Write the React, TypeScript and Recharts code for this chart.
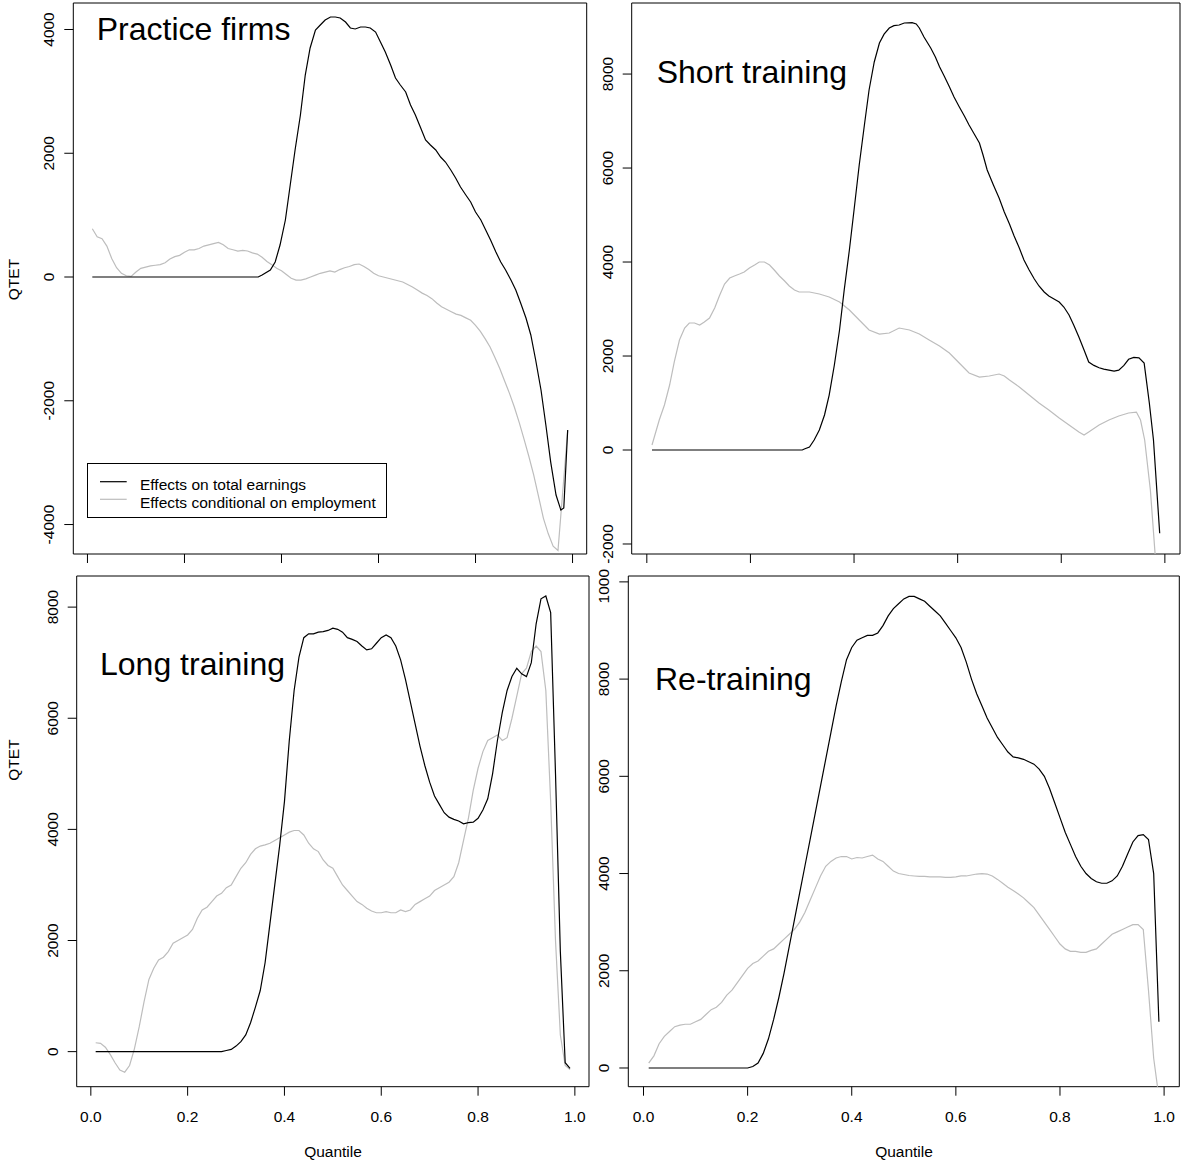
import React from 'react';
import { LineChart, Line, XAxis, YAxis, ReferenceArea } from 'recharts';

const FONT = '"Liberation Sans", Arial, Helvetica, sans-serif';
const FS = 15.5;
const TITLE_FS = 32;

// Quantile axis
const X_DOMAIN: [number, number] = [-0.0292, 1.0292];
const X_TICKS = [0, 0.2, 0.4, 0.6, 0.8, 1.0];

// Tick labels of the QTET axes
const p1YTicks = [-4000, -2000, 0, 2000, 4000];
const p2YTicks = [-2000, 0, 2000, 4000, 6000, 8000];
const p3YTicks = [0, 2000, 4000, 6000, 8000];
const p4YTicks = [0, 2000, 4000, 6000, 8000, 10000];

const titles = ['Practice firms', 'Short training', 'Long training', 'Re-training'];
const legendLabels = ['Effects on total earnings', 'Effects conditional on employment'];

// ---- Panel 1: Practice firms ----  [quantile, QTET]
const p1Total: [number, number][] = [
  [0.01, 0], [0.352, 0], [0.36, 32], [0.377, 113], [0.387, 242], [0.397, 517], [0.408, 921], [0.418, 1487],
  [0.428, 2053], [0.439, 2618], [0.449, 3264], [0.459, 3701], [0.47, 3992], [0.48, 4072], [0.49, 4153],
  [0.501, 4202], [0.511, 4202], [0.521, 4185], [0.532, 4121], [0.542, 4024], [0.552, 4008], [0.563, 4040],
  [0.573, 4040], [0.583, 4024], [0.594, 3959], [0.604, 3798], [0.614, 3636], [0.625, 3426], [0.635, 3216],
  [0.645, 3103], [0.656, 2990], [0.666, 2780], [0.676, 2618], [0.687, 2408], [0.697, 2214], [0.707, 2133],
  [0.718, 2053], [0.728, 1939], [0.738, 1858], [0.749, 1729], [0.759, 1600], [0.769, 1454], [0.78, 1325],
  [0.79, 1212], [0.8, 1050], [0.811, 921], [0.821, 760], [0.831, 598], [0.842, 404], [0.852, 242],
  [0.862, 113], [0.873, -48], [0.883, -210], [0.893, -420], [0.904, -663], [0.914, -937], [0.924, -1341],
  [0.935, -1826], [0.945, -2392], [0.955, -2990], [0.966, -3523], [0.976, -3766], [0.982, -3733], [0.99, -2472],
];
const p1Cond: [number, number][] = [
  [0.01, 780], [0.02, 650], [0.03, 620], [0.04, 500], [0.05, 300], [0.06, 150], [0.07, 60], [0.08, 20],
  [0.09, 10], [0.1, 80], [0.11, 140], [0.12, 160], [0.13, 180], [0.14, 190], [0.15, 200], [0.16, 230],
  [0.17, 290], [0.18, 330], [0.19, 350], [0.2, 400], [0.21, 440], [0.22, 440], [0.23, 460], [0.24, 500],
  [0.25, 520], [0.26, 540], [0.27, 560], [0.28, 520], [0.29, 460], [0.3, 440], [0.31, 420], [0.32, 430],
  [0.33, 420], [0.34, 390], [0.35, 370], [0.36, 320], [0.37, 250], [0.38, 200], [0.39, 140], [0.4, 100],
  [0.41, 40], [0.42, -20], [0.43, -50], [0.44, -50], [0.45, -30], [0.46, 0], [0.47, 30], [0.48, 60],
  [0.49, 80], [0.5, 100], [0.51, 80], [0.52, 120], [0.53, 150], [0.54, 170], [0.55, 200], [0.56, 210],
  [0.57, 170], [0.58, 120], [0.59, 60], [0.6, 20], [0.61, 0], [0.62, -20], [0.63, -40], [0.64, -60],
  [0.65, -80], [0.66, -120], [0.67, -160], [0.68, -210], [0.69, -260], [0.7, -300], [0.71, -350],
  [0.72, -420], [0.73, -480], [0.74, -520], [0.75, -560], [0.76, -600], [0.77, -620], [0.78, -660],
  [0.79, -700], [0.8, -780], [0.81, -880], [0.82, -1000], [0.83, -1130], [0.84, -1300], [0.85, -1480],
  [0.86, -1680], [0.87, -1880], [0.88, -2100], [0.89, -2350], [0.9, -2620], [0.91, -2900], [0.92, -3200],
  [0.93, -3550], [0.94, -3900], [0.95, -4150], [0.96, -4350], [0.97, -4420], [0.98, -3450], [0.99, -2480],
];

// ---- Panel 2: Short training ----
const p2Total: [number, number][] = [
  [0.01, 0], [0.3, 0], [0.304, 21], [0.314, 64], [0.323, 213], [0.333, 426], [0.343, 745], [0.352, 1170],
  [0.362, 1809], [0.372, 2554], [0.381, 3405], [0.391, 4256], [0.4, 5107], [0.41, 6065], [0.42, 6916],
  [0.429, 7661], [0.439, 8257], [0.449, 8661], [0.458, 8850], [0.468, 8980], [0.477, 9030], [0.487, 9044],
  [0.497, 9086], [0.512, 9093], [0.52, 9065], [0.526, 8980], [0.535, 8789], [0.548, 8555], [0.557, 8363],
  [0.565, 8157], [0.574, 7959], [0.584, 7731], [0.593, 7512], [0.603, 7305], [0.613, 7108], [0.622, 6916],
  [0.632, 6725], [0.642, 6533], [0.649, 6278], [0.657, 5958], [0.669, 5639], [0.68, 5363], [0.69, 5065],
  [0.7, 4809], [0.709, 4554], [0.719, 4299], [0.728, 4043], [0.738, 3830], [0.748, 3639], [0.757, 3490],
  [0.767, 3362], [0.776, 3277], [0.786, 3213], [0.796, 3149], [0.805, 3043], [0.815, 2873], [0.824, 2660],
  [0.834, 2405], [0.844, 2128], [0.853, 1873], [0.863, 1800], [0.873, 1750], [0.882, 1720], [0.892, 1700],
  [0.902, 1680], [0.911, 1700], [0.921, 1800], [0.93, 1930], [0.94, 1970], [0.95, 1960], [0.96, 1850],
  [0.97, 1000], [0.978, 213], [0.99, -1770],
];
const p2Cond: [number, number][] = [
  [0.01, 106], [0.024, 638], [0.034, 958], [0.044, 1383], [0.053, 1873], [0.063, 2341], [0.073, 2596],
  [0.082, 2703], [0.092, 2703], [0.102, 2660], [0.111, 2724], [0.121, 2809], [0.131, 3022], [0.14, 3277],
  [0.15, 3532], [0.16, 3660], [0.169, 3703], [0.179, 3745], [0.188, 3788], [0.198, 3873], [0.208, 3937],
  [0.217, 4001], [0.227, 4001], [0.237, 3937], [0.246, 3830], [0.256, 3703], [0.266, 3596], [0.275, 3490],
  [0.285, 3405], [0.294, 3362], [0.314, 3362], [0.333, 3320], [0.352, 3256], [0.372, 3149], [0.391, 2979],
  [0.41, 2766], [0.429, 2554], [0.449, 2468], [0.468, 2490], [0.487, 2596], [0.507, 2554], [0.526, 2468],
  [0.545, 2341], [0.565, 2213], [0.584, 2064], [0.603, 1851], [0.622, 1639], [0.642, 1553], [0.661, 1575],
  [0.68, 1617], [0.69, 1575], [0.7, 1490], [0.719, 1341], [0.738, 1170], [0.757, 1000], [0.776, 851],
  [0.796, 681], [0.815, 532], [0.834, 383], [0.844, 319], [0.853, 383], [0.873, 532], [0.892, 638],
  [0.911, 723], [0.93, 787], [0.945, 808], [0.953, 638], [0.961, 213], [0.972, -850], [0.982, -2340], [0.99, -3000],
];

// ---- Panel 3: Long training ----
const p3Total: [number, number][] = [
  [0.01, 0], [0.27, 0], [0.28, 20], [0.29, 40], [0.3, 100], [0.31, 180], [0.32, 300], [0.33, 520],
  [0.34, 800], [0.35, 1100], [0.36, 1600], [0.37, 2300], [0.38, 3000], [0.39, 3700], [0.4, 4500],
  [0.41, 5600], [0.42, 6500], [0.43, 7100], [0.44, 7450], [0.45, 7520], [0.46, 7520], [0.47, 7550],
  [0.48, 7560], [0.49, 7580], [0.5, 7620], [0.51, 7600], [0.52, 7550], [0.53, 7450], [0.54, 7420],
  [0.55, 7380], [0.56, 7300], [0.57, 7230], [0.58, 7250], [0.59, 7350], [0.6, 7450], [0.61, 7500],
  [0.62, 7450], [0.63, 7300], [0.64, 7050], [0.65, 6700], [0.66, 6300], [0.67, 5900], [0.68, 5500],
  [0.69, 5150], [0.7, 4850], [0.71, 4600], [0.72, 4450], [0.73, 4300], [0.74, 4220], [0.75, 4180],
  [0.76, 4150], [0.77, 4100], [0.78, 4120], [0.79, 4130], [0.8, 4200], [0.81, 4350], [0.82, 4550],
  [0.83, 5000], [0.84, 5600], [0.85, 6100], [0.86, 6500], [0.87, 6750], [0.88, 6900], [0.89, 6800],
  [0.9, 6750], [0.91, 7000], [0.92, 7700], [0.93, 8150], [0.94, 8200], [0.95, 7900], [0.96, 5000],
  [0.97, 1800], [0.98, -200], [0.99, -300],
];
const p3Cond: [number, number][] = [
  [0.01, 160], [0.02, 150], [0.03, 80], [0.04, -50], [0.05, -200], [0.06, -330], [0.07, -370], [0.08, -250],
  [0.09, 50], [0.1, 450], [0.11, 900], [0.12, 1300], [0.13, 1500], [0.14, 1650], [0.15, 1700], [0.16, 1800],
  [0.17, 1950], [0.18, 2000], [0.19, 2050], [0.2, 2100], [0.21, 2200], [0.22, 2400], [0.23, 2550],
  [0.24, 2600], [0.25, 2700], [0.26, 2800], [0.27, 2850], [0.28, 2950], [0.29, 3000], [0.3, 3150],
  [0.31, 3300], [0.32, 3400], [0.33, 3550], [0.34, 3650], [0.35, 3700], [0.36, 3720], [0.37, 3750],
  [0.38, 3800], [0.39, 3850], [0.4, 3900], [0.41, 3950], [0.42, 3980], [0.43, 3980], [0.44, 3900],
  [0.45, 3750], [0.46, 3650], [0.47, 3600], [0.48, 3450], [0.49, 3350], [0.5, 3300], [0.51, 3150],
  [0.52, 3000], [0.53, 2900], [0.54, 2800], [0.55, 2700], [0.56, 2650], [0.57, 2580], [0.58, 2530],
  [0.59, 2500], [0.6, 2500], [0.61, 2520], [0.62, 2500], [0.63, 2500], [0.64, 2550], [0.65, 2520],
  [0.66, 2550], [0.67, 2650], [0.68, 2700], [0.69, 2750], [0.7, 2800], [0.71, 2900], [0.72, 2950],
  [0.73, 3000], [0.74, 3050], [0.75, 3150], [0.76, 3400], [0.77, 3800], [0.78, 4200], [0.79, 4700],
  [0.8, 5100], [0.81, 5400], [0.82, 5600], [0.83, 5650], [0.84, 5700], [0.85, 5600], [0.86, 5650],
  [0.87, 6000], [0.88, 6400], [0.89, 6800], [0.9, 6900], [0.91, 7200], [0.92, 7300], [0.93, 7200],
  [0.94, 6500], [0.95, 4500], [0.96, 2000], [0.97, 300], [0.98, -250], [0.99, -320],
];

// ---- Panel 4: Re-training ----
const p4Total: [number, number][] = [
  [0.01, 0], [0.2, 0], [0.21, 30], [0.22, 100], [0.23, 300], [0.24, 600], [0.25, 1000], [0.26, 1450],
  [0.27, 1950], [0.28, 2500], [0.29, 3050], [0.3, 3600], [0.31, 4150], [0.32, 4700], [0.33, 5250],
  [0.34, 5800], [0.35, 6350], [0.36, 6900], [0.37, 7450], [0.38, 7950], [0.39, 8400], [0.4, 8650],
  [0.41, 8800], [0.42, 8850], [0.43, 8900], [0.44, 8900], [0.45, 8950], [0.46, 9100], [0.47, 9300],
  [0.48, 9450], [0.49, 9550], [0.5, 9650], [0.51, 9700], [0.52, 9700], [0.53, 9650], [0.54, 9600],
  [0.55, 9500], [0.56, 9400], [0.57, 9300], [0.58, 9150], [0.59, 9000], [0.6, 8850], [0.61, 8650],
  [0.62, 8350], [0.63, 8000], [0.64, 7700], [0.65, 7450], [0.66, 7200], [0.67, 7000], [0.68, 6800],
  [0.69, 6650], [0.7, 6500], [0.71, 6400], [0.72, 6380], [0.73, 6350], [0.74, 6300], [0.75, 6250],
  [0.76, 6150], [0.77, 6000], [0.78, 5750], [0.79, 5450], [0.8, 5150], [0.81, 4850], [0.82, 4600],
  [0.83, 4350], [0.84, 4150], [0.85, 4000], [0.86, 3900], [0.87, 3830], [0.88, 3800], [0.89, 3800],
  [0.9, 3850], [0.91, 3950], [0.92, 4150], [0.93, 4400], [0.94, 4650], [0.95, 4780], [0.96, 4800],
  [0.97, 4700], [0.98, 4000], [0.99, 950],
];
const p4Cond: [number, number][] = [
  [0.01, 100], [0.02, 250], [0.03, 500], [0.04, 650], [0.05, 750], [0.06, 850], [0.07, 880], [0.08, 900],
  [0.09, 900], [0.1, 950], [0.11, 1000], [0.12, 1100], [0.13, 1200], [0.14, 1250], [0.15, 1350],
  [0.16, 1500], [0.17, 1600], [0.18, 1750], [0.19, 1900], [0.2, 2050], [0.21, 2150], [0.22, 2200],
  [0.23, 2300], [0.24, 2400], [0.25, 2450], [0.26, 2550], [0.27, 2650], [0.28, 2750], [0.29, 2850],
  [0.3, 3000], [0.31, 3200], [0.32, 3450], [0.33, 3700], [0.34, 3950], [0.35, 4150], [0.36, 4250],
  [0.37, 4320], [0.38, 4350], [0.39, 4350], [0.4, 4300], [0.41, 4330], [0.42, 4320], [0.43, 4350],
  [0.44, 4380], [0.45, 4300], [0.46, 4250], [0.47, 4150], [0.48, 4050], [0.49, 4000], [0.5, 3980],
  [0.51, 3960], [0.52, 3950], [0.53, 3940], [0.54, 3940], [0.55, 3930], [0.56, 3930], [0.57, 3930],
  [0.58, 3920], [0.59, 3920], [0.6, 3930], [0.61, 3950], [0.62, 3950], [0.63, 3970], [0.64, 3990],
  [0.65, 4000], [0.66, 3990], [0.67, 3950], [0.68, 3880], [0.69, 3800], [0.7, 3720], [0.71, 3650],
  [0.72, 3580], [0.73, 3500], [0.74, 3400], [0.75, 3300], [0.76, 3150], [0.77, 3000], [0.78, 2850],
  [0.79, 2700], [0.8, 2550], [0.81, 2450], [0.82, 2400], [0.83, 2400], [0.84, 2380], [0.85, 2380],
  [0.86, 2420], [0.87, 2450], [0.88, 2550], [0.89, 2650], [0.9, 2750], [0.91, 2800], [0.92, 2850],
  [0.93, 2900], [0.94, 2950], [0.95, 2950], [0.96, 2850], [0.97, 1600], [0.98, 200], [0.99, -600],
];

const toRows = (pairs: [number, number][]) => pairs.map(([q, v]) => ({ q, v }));

const YTick = (props: any) => {
  const { x, y, payload } = props;
  const bx = x - 10;
  return (
    <text x={bx} y={y} transform={`rotate(-90, ${bx}, ${y})`} textAnchor="middle"
      fontSize={FS} fontFamily={FONT} fill="#000">{payload.value}</text>
  );
};
const XTick = (props: any) => {
  const { x, y, payload } = props;
  return (
    <text x={x} y={y + 26.5} textAnchor="middle" fontSize={FS} fontFamily={FONT} fill="#000">
      {Number(payload.value).toFixed(1)}
    </text>
  );
};
const NoTick = () => <g />;

type Box = { l: number; r: number; t: number; b: number };
type Cell = { left: number; top: number; width: number; height: number };

function Panel(props: {
  cell: Cell; box: Box; yDomain: [number, number]; yTicks: number[]; xLabels: boolean;
  total: [number, number][]; cond: [number, number][];
}) {
  const { cell, box, yDomain, yTicks, xLabels, total, cond } = props;
  const W = cell.width;
  const H = cell.height;
  return (
    <div style={{ position: 'absolute', left: cell.left, top: cell.top, width: W, height: H, overflow: 'hidden' }}>
      <LineChart width={W} height={H} margin={{ top: box.t, right: W - box.r, bottom: 0, left: 0 }}>
        <XAxis type="number" dataKey="q" domain={X_DOMAIN} ticks={X_TICKS} allowDataOverflow
          axisLine={false} stroke="#000" tickSize={9} tickMargin={0} height={H - box.b}
          tick={xLabels ? XTick : NoTick} interval={0} />
        <YAxis type="number" dataKey="v" domain={yDomain} ticks={yTicks} allowDataOverflow
          width={box.l} axisLine={false} stroke="#000" tickSize={9} tickMargin={0}
          tick={YTick} interval={0} />
        <ReferenceArea x1={X_DOMAIN[0]} x2={X_DOMAIN[1]} y1={yDomain[0]} y2={yDomain[1]}
          fill="none" fillOpacity={0} stroke="#000" strokeWidth={1} ifOverflow="visible" />
        <Line data={toRows(cond)} dataKey="v" type="linear" stroke="#bdbdbd" strokeWidth={1.2}
          dot={false} activeDot={false} isAnimationActive={false} />
        <Line data={toRows(total)} dataKey="v" type="linear" stroke="#000" strokeWidth={1.2}
          dot={false} activeDot={false} isAnimationActive={false} />
      </LineChart>
    </div>
  );
}

export default function App() {
  return (
    <div style={{ position: 'absolute', left: 0, top: 0, width: 1182, height: 1163, background: '#fff', fontFamily: FONT }}>
      <Panel cell={{ left: 0, top: 0, width: 598, height: 569 }} box={{ l: 73.3, r: 586.7, t: 3, b: 554 }}
        yDomain={[-4476, 4428]} yTicks={p1YTicks} xLabels={false} total={p1Total} cond={p1Cond} />
      <Panel cell={{ left: 598, top: 0, width: 584, height: 569 }} box={{ l: 33.7, r: 582, t: 3, b: 554 }}
        yDomain={[-2213, 9512]} yTicks={p2YTicks} xLabels={false} total={p2Total} cond={p2Cond} />
      <Panel cell={{ left: 0, top: 569, width: 598, height: 594 }} box={{ l: 76.7, r: 589, t: 7, b: 517.7 }}
        yDomain={[-631, 8560]} yTicks={p3YTicks} xLabels={true} total={p3Total} cond={p3Cond} />
      <Panel cell={{ left: 596, top: 569, width: 586, height: 594 }} box={{ l: 32.3, r: 583.3, t: 7, b: 517.7 }}
        yDomain={[-385, 10121]} yTicks={p4YTicks} xLabels={true} total={p4Total} cond={p4Cond} />

      <svg width={1182} height={1163} style={{ position: 'absolute', left: 0, top: 0, pointerEvents: 'none' }}
        fontFamily={FONT}>
        <text x={96.7} y={40} fontSize={TITLE_FS}>{titles[0]}</text>
        <text x={656.7} y={83.3} fontSize={TITLE_FS}>{titles[1]}</text>
        <text x={100} y={675} fontSize={TITLE_FS}>{titles[2]}</text>
        <text x={655} y={690} fontSize={TITLE_FS}>{titles[3]}</text>

        <text x={19} y={279.5} fontSize={FS} textAnchor="middle" transform="rotate(-90, 19, 279.5)">QTET</text>
        <text x={19} y={760} fontSize={FS} textAnchor="middle" transform="rotate(-90, 19, 760)">QTET</text>
        <text x={333} y={1157} fontSize={FS} textAnchor="middle">Quantile</text>
        <text x={904} y={1157} fontSize={FS} textAnchor="middle">Quantile</text>

        <rect x={87.5} y={463.5} width={299} height={54} fill="#fff" stroke="#000" strokeWidth={1} />
        <line x1={100} x2={126.7} y1={481.7} y2={481.7} stroke="#000" strokeWidth={1.2} />
        <line x1={100} x2={126.7} y1={499.3} y2={499.3} stroke="#bdbdbd" strokeWidth={1.2} />
        <text x={140} y={490} fontSize={FS}>{legendLabels[0]}</text>
        <text x={140} y={507.7} fontSize={FS}>{legendLabels[1]}</text>
      </svg>
    </div>
  );
}
